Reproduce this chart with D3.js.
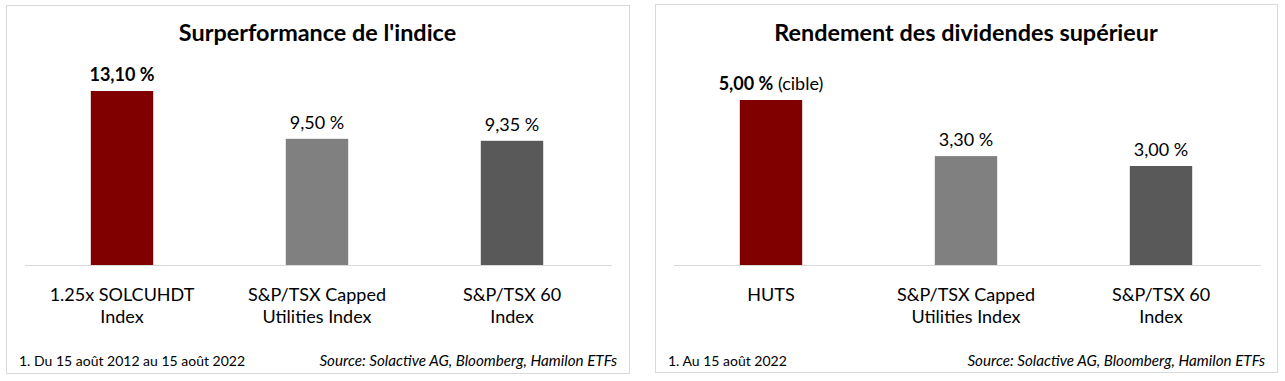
<!DOCTYPE html>
<html>
<head>
<meta charset="utf-8">
<script src="https://cdn.jsdelivr.net/npm/d3@7"></script>
<style>
  body { margin: 0; background: #fff; }
  svg { font-family: Lato, "Open Sans", sans-serif; }
</style>
</head>
<body>
<svg id="chart" width="1285" height="381"></svg>
<script>
// data for both panels
const leftCategories = [["1.25x SOLCUHDT", "Index"], ["S&P/TSX Capped", "Utilities Index"], ["S&P/TSX 60", "Index"]];
const leftValues = [13.10, 9.50, 9.35];
const leftLabels = ["13,10 %", "9,50 %", "9,35 %"];

const rightCategories = [["HUTS"], ["S&P/TSX Capped", "Utilities Index"], ["S&P/TSX 60", "Index"]];
const rightValues = [5.00, 3.30, 3.00];
const rightLabels = ["5,00 %", "3,30 %", "3,00 %"];

const barColors = ["#800000", "#808080", "#595959"];

const svg = d3.select("#chart");

function drawPanel(opts) {
  const g = svg.append("g").attr("transform", "translate(" + opts.x + ",0)");
  const w = opts.w;

  // frame
  g.append("rect")
    .attr("x", 0.5).attr("y", opts.top + 0.5)
    .attr("width", w).attr("height", 368)
    .attr("fill", "#fff").attr("stroke", "#d9d9d9");

  g.append("text")
    .attr("x", w / 2).attr("y", 41)
    .attr("text-anchor", "middle")
    .attr("font-size", 23.4).attr("font-weight", "bold")
    .text(opts.title);

  const baseY = 265;
  const x = d3.scaleBand()
    .domain(d3.range(opts.values.length))
    .range([18.5, 18.5 + 585])
    .paddingInner(0.68).paddingOuter(0.34);

  const y = d3.scaleLinear()
    .domain([0, opts.max])
    .range([baseY, baseY - opts.maxPx]);

  g.selectAll("rect.bar")
    .data(opts.values)
    .join("rect")
    .attr("class", "bar")
    .attr("x", (d, i) => x(i))
    .attr("width", x.bandwidth())
    .attr("y", d => y(d))
    .attr("height", d => baseY - y(d))
    .attr("fill", (d, i) => barColors[i]);

  g.append("line")
    .attr("x1", 19).attr("x2", 606)
    .attr("y1", baseY + 0.5).attr("y2", baseY + 0.5)
    .attr("stroke", "#d9d9d9").attr("stroke-width", 1);

  // value labels
  opts.values.forEach((v, i) => {
    const t = g.append("text")
      .attr("x", x(i) + x.bandwidth() / 2)
      .attr("y", y(v) - 10)
      .attr("text-anchor", "middle")
      .attr("font-size", 18).attr("fill", "#000");
    if (i === 0) {
      t.append("tspan").attr("font-weight", "bold").text(opts.labels[i]);
      if (opts.suffix) t.append("tspan").text(" " + opts.suffix);
    } else {
      t.text(opts.labels[i]);
    }
  });

  // category labels
  opts.categories.forEach((lines, i) => {
    const t = g.append("text")
      .attr("x", x(i) + x.bandwidth() / 2)
      .attr("y", 301)
      .attr("text-anchor", "middle")
      .attr("font-size", 18);
    lines.forEach((ln, j) => {
      t.append("tspan")
        .attr("x", x(i) + x.bandwidth() / 2)
        .attr("dy", j === 0 ? 0 : 22)
        .text(ln);
    });
  });

  g.append("text")
    .attr("x", 13).attr("y", 366)
    .attr("font-size", 14)
    .text(opts.footnote);

  g.append("text")
    .attr("x", w - 12).attr("y", 366)
    .attr("text-anchor", "end")
    .attr("font-size", 15.2).attr("font-style", "italic")
    .text("Source: Solactive AG, Bloomberg, Hamilon ETFs");
}

drawPanel({
  x: 6, top: 5, w: 623,
  title: "Surperformance de l'indice",
  categories: leftCategories, values: leftValues, labels: leftLabels,
  max: 13.10, maxPx: 174,
  footnote: "1. Du 15 août 2012 au 15 août 2022"
});

drawPanel({
  x: 655, top: 4, w: 622,
  title: "Rendement des dividendes supérieur",
  categories: rightCategories, values: rightValues, labels: rightLabels,
  max: 5.00, maxPx: 165, suffix: "(cible)",
  footnote: "1. Au 15 août 2022"
});
</script>
</body>
</html>
